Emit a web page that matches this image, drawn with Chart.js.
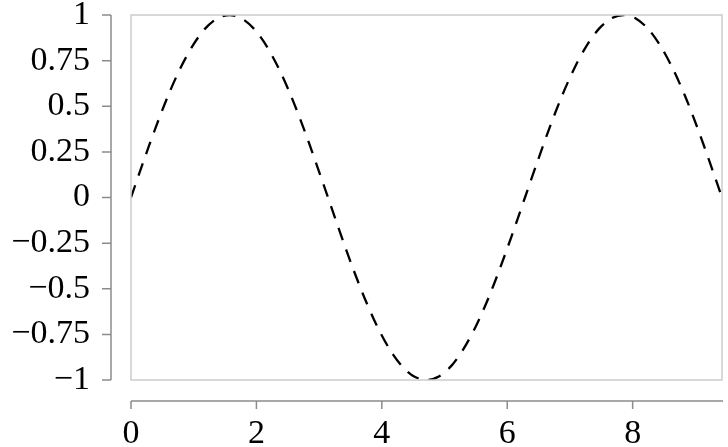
<!DOCTYPE html>
<html>
<head>
<meta charset="utf-8">
<script src="https://cdn.jsdelivr.net/npm/chart.js@4"></script>
<style>
  html, body { margin: 0; padding: 0; background: #fff; }
  #wrap { width: 728px; height: 447px; }
</style>
</head>
<body>
<div id="wrap"><canvas id="chart"></canvas></div>
<script>
// sample points (x in radians-ish, one period = 6.283)
const xs = [0, 0.196, 0.393, 0.589, 0.785, 0.982, 1.178, 1.374, 1.571, 1.767, 1.963, 2.160, 2.356,
  2.553, 2.749, 2.945, 3.142, 3.338, 3.534, 3.731, 3.927, 4.123, 4.320, 4.516, 4.712,
  4.909, 5.105, 5.301, 5.498, 5.694, 5.890, 6.087, 6.283, 6.480, 6.676, 6.872, 7.069,
  7.265, 7.461, 7.658, 7.854, 8.050, 8.247, 8.443, 8.639, 8.836, 9.032, 9.228, 9.425];
const ys = [0, 0.195, 0.383, 0.556, 0.707, 0.831, 0.924, 0.981, 1, 0.981, 0.924, 0.831, 0.707,
  0.556, 0.383, 0.195, 0, -0.195, -0.383, -0.556, -0.707, -0.831, -0.924, -0.981, -1,
  -0.981, -0.924, -0.831, -0.707, -0.556, -0.383, -0.195, 0, 0.195, 0.383, 0.556, 0.707,
  0.831, 0.924, 0.981, 1, 0.981, 0.924, 0.831, 0.707, 0.556, 0.383, 0.195, 0];
const xTicks = [0, 2, 4, 6, 8];
const yTicks = [-1, -0.75, -0.5, -0.25, 0, 0.25, 0.5, 0.75, 1];

const fmt = v => String(v).replace('-', '\u2212');

// box around plot + offset axis lines with their ticks
const offsetAxes = {
  id: 'offsetAxes',
  afterDraw(chart) {
    const ctx = chart.ctx;
    const a = chart.chartArea;
    const xs_ = chart.scales.x, ys_ = chart.scales.y;
    ctx.save();
    ctx.strokeStyle = '#cccccc';
    ctx.lineWidth = 1.5;
    ctx.strokeRect(a.left, a.top, a.right - a.left, a.bottom - a.top);

    ctx.strokeStyle = '#8c8c8c';
    ctx.lineWidth = 1.5;
    // y axis
    const yx = a.left - 20;
    ctx.beginPath();
    ctx.moveTo(yx, a.top);
    ctx.lineTo(yx, a.bottom);
    ys_.ticks.forEach(t => {
      const p = ys_.getPixelForValue(t.value);
      ctx.moveTo(yx, p);
      ctx.lineTo(yx - 9, p);
    });
    ctx.stroke();
    // x axis
    const xy = a.bottom + 21;
    ctx.beginPath();
    ctx.moveTo(a.left, xy);
    ctx.lineTo(a.right + 1, xy);
    xs_.ticks.forEach(t => {
      const p = xs_.getPixelForValue(t.value);
      ctx.moveTo(p, xy);
      ctx.lineTo(p, xy + 8);
    });
    ctx.stroke();
    ctx.restore();
  }
};

const font = { family: '"Liberation Serif", serif', size: 34, lineHeight: 1.0 };

new Chart(document.getElementById('chart'), {
  type: 'line',
  data: {
    datasets: [{
      data: xs.map((x, i) => ({ x: x, y: ys[i] })),
      borderColor: '#000',
      borderWidth: 2.3,
      borderDash: [13, 10],
      pointRadius: 0,
      tension: 0.3,
      fill: false
    }]
  },
  options: {
    responsive: true,
    maintainAspectRatio: false,
    animation: false,
    layout: { padding: { top: 15, right: 6, left: 0, bottom: 0 } },
    plugins: { legend: { display: false }, tooltip: { enabled: false } },
    scales: {
      x: {
        type: 'linear',
        min: 0,
        max: 9.425,
        afterBuildTicks: s => { s.ticks = xTicks.map(v => ({ value: v })); },
        afterFit: s => { s.height = 67; s.paddingLeft = 0; s.paddingRight = 0; },
        grid: { display: false, drawTicks: false },
        border: { display: false },
        ticks: { color: '#000', font: font, padding: 37, maxRotation: 0, callback: fmt }
      },
      y: {
        min: -1,
        max: 1,
        afterBuildTicks: s => { s.ticks = yTicks.map(v => ({ value: v })); },
        afterFit: s => { s.width = 131; s.paddingTop = 0; s.paddingBottom = 0; },
        grid: { display: false, drawTicks: false },
        border: { display: false },
        ticks: { color: '#000', font: font, padding: 41, callback: fmt }
      }
    }
  },
  plugins: [offsetAxes]
});
</script>
</body>
</html>
